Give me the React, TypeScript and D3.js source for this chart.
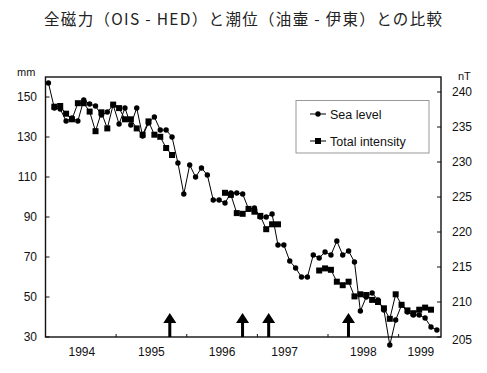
import { useEffect } from "react";
import * as d3 from "d3";

// monthly values, starting January 1994
const seaLevel = [
  157, 144.5, 144, 138, 139.5, 138, 148.5, 146.5, 145.5, 141, 142.5, 146,
  136.5, 144.5, 136, 144.5, 130.5, 137, 140, 133.5, 133.5, 130, 117, 101.5,
  116, 110, 114.5, 111, 98.5, 98.5, 97, 102, 102, 101.5, 94, 94.5,
  90, 90, 91.5, 76, 76, 68, 64.5, 60, 60, 71, 69.5, 72.5,
  71, 78, 71, 73, 67.5, 43, 50, 52, 48.5, 43.5, 26, 38.5,
  46, 42.5, 41, 41, 39.5, 35, 33.5,
];

const totalIntensity: (number | null)[] = [
  null, 237.9, 238.0, 236.9, 236.1, 238.4, 238.4, 237.2, 234.4, 237.1, 234.8, 238.2,
  237.7, 236.1, 236.1, 234.8, 233.9, 235.8, 233.9, 233.6, 232.0, 231.0, null, null,
  null, null, null, null, null, null, 225.6, 225.3, 222.7, 222.6, 223.3, 222.9,
  222.3, 220.4, 221.1, 221.1, null, null, null, null, null, null, 214.5, 214.8,
  214.6, 212.9, 212.4, 212.9, 210.8, 211.1, 211.0, 210.3, 210.0, 209.1, 207.6, 211.1,
  209.6, 208.8, 208.4, 208.9, 209.2, 208.9, null,
];

const yearLabels = [1994, 1995, 1996, 1997, 1998, 1999];
const yearLabelNudge = [1, 0, 0, -8, 0, -13];
const leftTicks = [30, 50, 70, 90, 110, 130, 150];
const rightTicks = [205, 210, 215, 220, 225, 230, 235, 240];
const eventDates = [1995.76, 1996.79, 1997.16, 1998.29];

const title = "全磁力（OIS - HED）と潮位（油壷 - 伊東）との比較";

const W = 487;
const H = 373;
const plot = { left: 45.5, right: 441, top: 77, bottom: 337 };
const font = "'Liberation Sans', Arial, sans-serif";

export default function App() {
  useEffect(() => {
    document.body.style.margin = "0";
  }, []);

  const x = d3.scaleLinear().domain([1994, 1999.6]).range([plot.left, plot.right]);
  const yL = d3.scaleLinear().domain([30, 160]).range([plot.bottom, plot.top]);
  const yR = d3.scaleLinear().domain([205, 205 + (260 / 35) * 5]).range([plot.bottom, plot.top]);
  const t = (i: number) => 1994 + (i + 0.5) / 12;

  const seaLine = d3
    .line<number>()
    .x((_, i) => x(t(i)))
    .y((d) => yL(d));
  const totLine = d3
    .line<number | null>()
    .defined((d) => d != null)
    .x((_, i) => x(t(i)))
    .y((d) => yR(d as number));

  const sq = 6;
  const arrow = (cx: number) => {
    const tip = plot.bottom - 24;
    const headB = tip + 10;
    return `M${cx},${tip} L${cx + 6.5},${headB} L${cx + 1.5},${headB} L${cx + 1.5},${plot.bottom} L${cx - 1.5},${plot.bottom} L${cx - 1.5},${headB} L${cx - 6.5},${headB} Z`;
  };

  return (
    <svg width={W} height={H} style={{ display: "block", background: "#fff" }}>
      <text
        x={243}
        y={25}
        textAnchor="middle"
        fontFamily="'Noto Sans CJK JP', sans-serif"
        fontSize={15.5}
        fill="#222"
        textLength={398}
        lengthAdjust="spacing"
      >
        {title}
      </text>

      {/* frame */}
      <rect
        x={plot.left}
        y={plot.top}
        width={plot.right - plot.left}
        height={plot.bottom - plot.top}
        fill="none"
        stroke="#111"
        strokeWidth={1.4}
      />

      {/* left axis */}
      <text x={17} y={76} fontFamily={font} fontSize={11} fill="#111">mm</text>
      {leftTicks.map((v) => (
        <g key={"l" + v}>
          <line x1={plot.left} x2={plot.left + 4} y1={yL(v)} y2={yL(v)} stroke="#111" />
          <text x={37} y={yL(v)} dy="0.36em" textAnchor="end" fontFamily={font} fontSize={12} fill="#111">
            {v}
          </text>
        </g>
      ))}

      {/* right axis */}
      <text x={458} y={80} fontFamily={font} fontSize={11} fill="#111">nT</text>
      {rightTicks.map((v) => (
        <g key={"r" + v}>
          <line x1={plot.right - 4} x2={plot.right} y1={yR(v)} y2={yR(v)} stroke="#111" />
          <text x={452} y={yR(v) + (v === 205 ? 3 : 0)} dy="0.36em" fontFamily={font} fontSize={12} fill="#111">
            {v}
          </text>
        </g>
      ))}

      {/* x axis */}
      {yearLabels.slice(1).map((yr) => (
        <line key={"t" + yr} x1={x(yr)} x2={x(yr)} y1={plot.bottom} y2={plot.bottom - 3} stroke="#111" />
      ))}
      {yearLabels.map((yr, i) => (
        <text
          key={"y" + yr}
          x={x(yr + 0.5) + yearLabelNudge[i]}
          y={356}
          textAnchor="middle"
          fontFamily={font}
          fontSize={12}
          fill="#111"
        >
          {yr}
        </text>
      ))}

      {/* event arrows */}
      {eventDates.map((d) => (
        <path key={"a" + d} d={arrow(x(d))} fill="#000" />
      ))}

      {/* total intensity */}
      <path d={totLine(totalIntensity) || ""} fill="none" stroke="#000" strokeWidth={1} />
      {totalIntensity.map((d, i) =>
        d == null ? null : (
          <rect key={"s" + i} x={x(t(i)) - sq / 2} y={yR(d) - sq / 2} width={sq} height={sq} fill="#000" />
        )
      )}

      {/* sea level */}
      <path d={seaLine(seaLevel) || ""} fill="none" stroke="#000" strokeWidth={1} />
      {seaLevel.map((d, i) => (
        <circle key={"c" + i} cx={x(t(i))} cy={yL(d)} r={2.7} fill="#000" />
      ))}

      {/* legend */}
      <rect x={296} y={100.5} width={133} height={52.5} fill="#fff" stroke="#999" strokeWidth={1} />
      <line x1={310} x2={326} y1={114} y2={114} stroke="#000" />
      <circle cx={318} cy={114} r={2.7} fill="#000" />
      <text x={330} y={114} dy="0.36em" fontFamily={font} fontSize={12.5} fill="#111">Sea level</text>
      <line x1={310} x2={326} y1={141} y2={141} stroke="#000" />
      <rect x={318 - sq / 2} y={141 - sq / 2} width={sq} height={sq} fill="#000" />
      <text x={330} y={141} dy="0.36em" fontFamily={font} fontSize={12.5} fill="#111">Total intensity</text>
    </svg>
  );
}
